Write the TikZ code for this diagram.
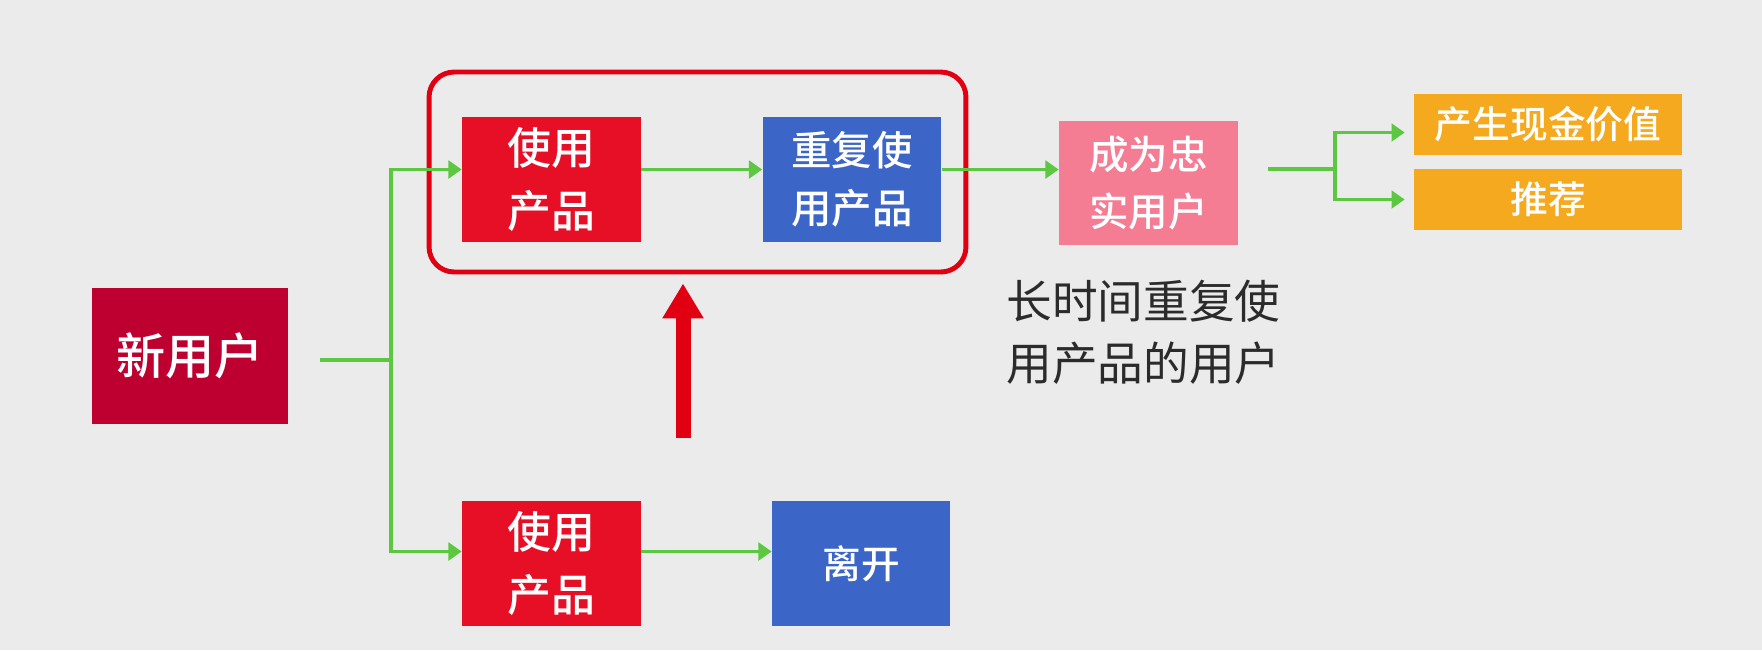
\documentclass[tikz,border=0pt]{standalone}
\usepackage{fontspec}
\setmainfont{Noto Sans CJK SC}
\newfontfamily\boxfont{Noto Sans CJK SC Medium}
\usetikzlibrary{arrows.meta}

\definecolor{bggray}{HTML}{EBEBEB}
\definecolor{newred}{HTML}{BE0030}
\definecolor{boxred}{HTML}{E60F26}
\definecolor{boxblue}{HTML}{3B65C7}
\definecolor{boxpink}{HTML}{F47C93}
\definecolor{boxorange}{HTML}{F5A91E}
\definecolor{flowgreen}{HTML}{5CC741}
\definecolor{framered}{HTML}{E00012}
\definecolor{notegray}{HTML}{2B2B2B}

\tikzset{
  box/.style={text=white, align=center, inner sep=0pt, font=\boxfont\fontsize{25}{36}\selectfont},
  stagebox/.style={box, minimum width=3.58cm, minimum height=2.5cm},
  outbox/.style={box, fill=boxorange, minimum width=5.36cm, minimum height=1.22cm,
    font=\boxfont\fontsize{21.5}{26}\selectfont},
  flow/.style={draw=flowgreen, line width=2.2pt},
  flowarr/.style={flow, -{Triangle[width=10pt,length=7.5pt]}},
}

\begin{document}
\begin{tikzpicture}[x=0.02cm,y=-0.02cm]

% 背景
\fill[bggray] (0,0) rectangle (1762,650);

% 左侧：新用户
\node[box, fill=newred, minimum width=3.92cm, minimum height=2.74cm,
  font=\boxfont\fontsize{28}{34}\selectfont] (newuser) at (190,356) {新用户};

% 上方分支
\node[stagebox, fill=boxred] (useA) at (551.5,179.5) {使用\\产品};
\node[stagebox, fill=boxblue, font=\boxfont\fontsize{23}{33}\selectfont] (repeat) at (852,179.5) {重复使\\用产品};
\node[draw=framered, line width=2.8pt, rounded corners=0.5cm,
  minimum width=10.74cm, minimum height=4cm] (loop) at (697.5,172) {};

% 下方分支
\node[stagebox, fill=boxred] (useB) at (551.5,563.5) {使用\\产品};
\node[stagebox, fill=boxblue, minimum width=3.56cm,
  font=\boxfont\fontsize{22}{30}\selectfont] (leave) at (861,563.5) {离开};

% 忠实用户
\node[stagebox, fill=boxpink, minimum height=2.48cm,
  font=\boxfont\fontsize{22.5}{32}\selectfont] (loyal) at (1148.5,183) {成为忠\\实用户};
\node[anchor=west, align=left, text=notegray, inner sep=0pt,
  font=\fontsize{26}{35}\selectfont] (note) at (1006,332) {长时间重复使\\用产品的用户};

% 价值
\node[outbox] (cash) at (1548,124.5) {产生现金价值};
\node[outbox] (recommend) at (1548,199.5) {推荐};

% 分叉点
\coordinate (forkL) at (391,360);
\coordinate (forkR) at (1335,169);
\coordinate (pushtail) at (683,438);

% 绿色连线
\draw[flow] ([xshift=0.64cm]newuser.east |- forkL) -- (forkL);
\draw[flowarr] (forkL) |- ([yshift=0.2cm]useA.west);
\draw[flowarr] (forkL) |- ([yshift=0.24cm]useB.west);
\draw[flowarr] ([yshift=0.2cm]useA.east) -- ([yshift=0.2cm]repeat.west);
\draw[flowarr] ([yshift=0.24cm]useB.east) -- ([yshift=0.24cm]leave.west);
\draw[flowarr] ([yshift=0.2cm]repeat.east) -- ([yshift=0.2cm]repeat.east -| loyal.west);
\draw[flow] ([xshift=0.6cm]loyal.east |- forkR) -- (forkR);
\draw[flowarr] (forkR) |- ([xshift=-0.18cm,yshift=-0.16cm]cash.west);
\draw[flowarr] (forkR) |- ([xshift=-0.18cm]recommend.west);

% 红色大箭头
\draw[draw=framered, line width=0.3cm, -{Triangle[width=0.78cm,length=0.7cm]}]
  (pushtail) -- ([yshift=-0.18cm]loop.south -| pushtail);

\end{tikzpicture}
\end{document}
